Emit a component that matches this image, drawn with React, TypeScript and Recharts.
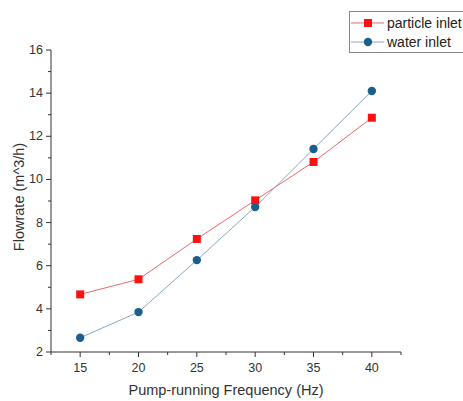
import React from 'react';
import { LineChart, Line, XAxis, YAxis, Legend, Label } from 'recharts';

const frequencies = [15, 20, 25, 30, 35, 40];
const particleInlet = [4.67, 5.37, 7.24, 9.03, 10.81, 12.86];
const waterInlet = [2.66, 3.85, 6.26, 8.72, 11.41, 14.1];
const xTicks = [12.5, 15, 17.5, 20, 22.5, 25, 27.5, 30, 32.5, 35, 37.5, 40, 42.5];
const yTicks = [2, 3, 4, 5, 6, 7, 8, 9, 10, 11, 12, 13, 14, 15, 16];

const data = frequencies.map((f, i) => ({ freq: f, particle: particleInlet[i], water: waterInlet[i] }));

const FONT = '"Liberation Sans", Arial, sans-serif';
const RED = '#ff1010';
const RED_LINE = '#e86a6a';
const BLUE = '#1d5f8c';
const BLUE_LINE = '#86a9c2';
const AXIS = '#333333';

const XTick = (props: any) => {
  const { x, y, payload } = props;
  const major = payload.value % 5 === 0;
  return (
    <g>
      <line x1={x} y1={y} x2={x} y2={y + (major ? 5 : 3)} stroke={AXIS} strokeWidth={1} />
      {major && (
        <text x={x} y={y + 16} textAnchor="middle" dominantBaseline="central" fontSize={12.5} fill="#333" fontFamily={FONT}>
          {payload.value}
        </text>
      )}
    </g>
  );
};

const YTick = (props: any) => {
  const { x, y, payload } = props;
  const major = payload.value % 2 === 0;
  return (
    <g>
      <line x1={x - (major ? 5 : 3)} y1={y} x2={x} y2={y} stroke={AXIS} strokeWidth={1} />
      {major && (
        <text x={x - 8} y={y} textAnchor="end" dominantBaseline="central" fontSize={12.5} fill="#333" fontFamily={FONT}>
          {payload.value}
        </text>
      )}
    </g>
  );
};

const SquareDot = (props: any) => {
  const { cx, cy, index } = props;
  return <rect key={`sq-${index}`} x={cx - 4} y={cy - 4} width={8} height={8} fill={RED} />;
};

const CircleDot = (props: any) => {
  const { cx, cy, index } = props;
  return <circle key={`ci-${index}`} cx={cx} cy={cy} r={4.2} fill={BLUE} />;
};

const YTitle = (props: any) => {
  const { viewBox } = props;
  const cy = viewBox.y + viewBox.height / 2;
  return (
    <text x={19} y={cy - 4} transform={`rotate(-90, 19, ${cy - 4})`} textAnchor="middle" dominantBaseline="central" fontSize={14.5} fill="#333" fontFamily={FONT}>
      Flowrate (m^3/h)
    </text>
  );
};

const XTitle = (props: any) => {
  const { viewBox } = props;
  const cx = viewBox.x + viewBox.width / 2;
  return (
    <text x={cx} y={390} textAnchor="middle" dominantBaseline="central" fontSize={14.5} fill="#333" fontFamily={FONT}>
      Pump-running Frequency (Hz)
    </text>
  );
};

const legendItems = [
  { name: 'particle inlet', line: RED_LINE, marker: 'square' },
  { name: 'water inlet', line: BLUE_LINE, marker: 'circle' },
];

const LegendBox = () => (
  <div
    style={{
      position: 'absolute',
      left: 349,
      top: 11,
      width: 130,
      height: 42,
      border: '1px solid #888',
      boxSizing: 'border-box',
      background: '#fff',
      fontFamily: FONT,
    }}
  >
    <svg width={130} height={40} style={{ display: 'block' }}>
      {legendItems.map((it, i) => {
        const cy = 11 + i * 19;
        return (
          <g key={it.name}>
            <line x1={1} y1={cy} x2={34} y2={cy} stroke={it.line} strokeWidth={1} />
            {it.marker === 'square' ? (
              <rect x={14} y={cy - 4} width={8} height={8} fill={RED} />
            ) : (
              <circle cx={18} cy={cy} r={4.2} fill={BLUE} />
            )}
            <text x={37} y={cy} dominantBaseline="central" fontSize={14} fill="#222" fontFamily={FONT}>
              {it.name}
            </text>
          </g>
        );
      })}
    </svg>
  </div>
);

export default function App() {
  return (
    <div style={{ position: 'absolute', left: 0, top: 0, width: 463, height: 401, overflow: 'hidden', background: '#fff' }}>
      <LineChart width={463} height={401} data={data} margin={{ top: 50, right: 62, bottom: 19, left: 10 }}>
        <XAxis
          dataKey="freq"
          type="number"
          domain={[12.5, 42.5]}
          ticks={xTicks}
          interval={0}
          allowDataOverflow
          height={30}
          tickSize={0}
          tickMargin={0}
          tickLine={false}
          tick={<XTick />}
          axisLine={{ stroke: AXIS, strokeWidth: 1 }}
        >
          <Label content={<XTitle />} />
        </XAxis>
        <YAxis
          type="number"
          domain={[2, 16]}
          ticks={yTicks}
          interval={0}
          allowDataOverflow
          width={41}
          tickSize={0}
          tickMargin={0}
          tickLine={false}
          tick={<YTick />}
          axisLine={{ stroke: AXIS, strokeWidth: 1 }}
        >
          <Label content={<YTitle />} />
        </YAxis>
        <Legend content={() => <LegendBox />} wrapperStyle={{ position: 'absolute', left: 0, top: 0, width: 0, height: 0 }} />
        <Line
          name="particle inlet"
          dataKey="particle"
          stroke={RED_LINE}
          strokeWidth={1}
          dot={<SquareDot />}
          activeDot={false}
          isAnimationActive={false}
        />
        <Line
          name="water inlet"
          dataKey="water"
          stroke={BLUE_LINE}
          strokeWidth={1}
          dot={<CircleDot />}
          activeDot={false}
          isAnimationActive={false}
        />
      </LineChart>
    </div>
  );
}
